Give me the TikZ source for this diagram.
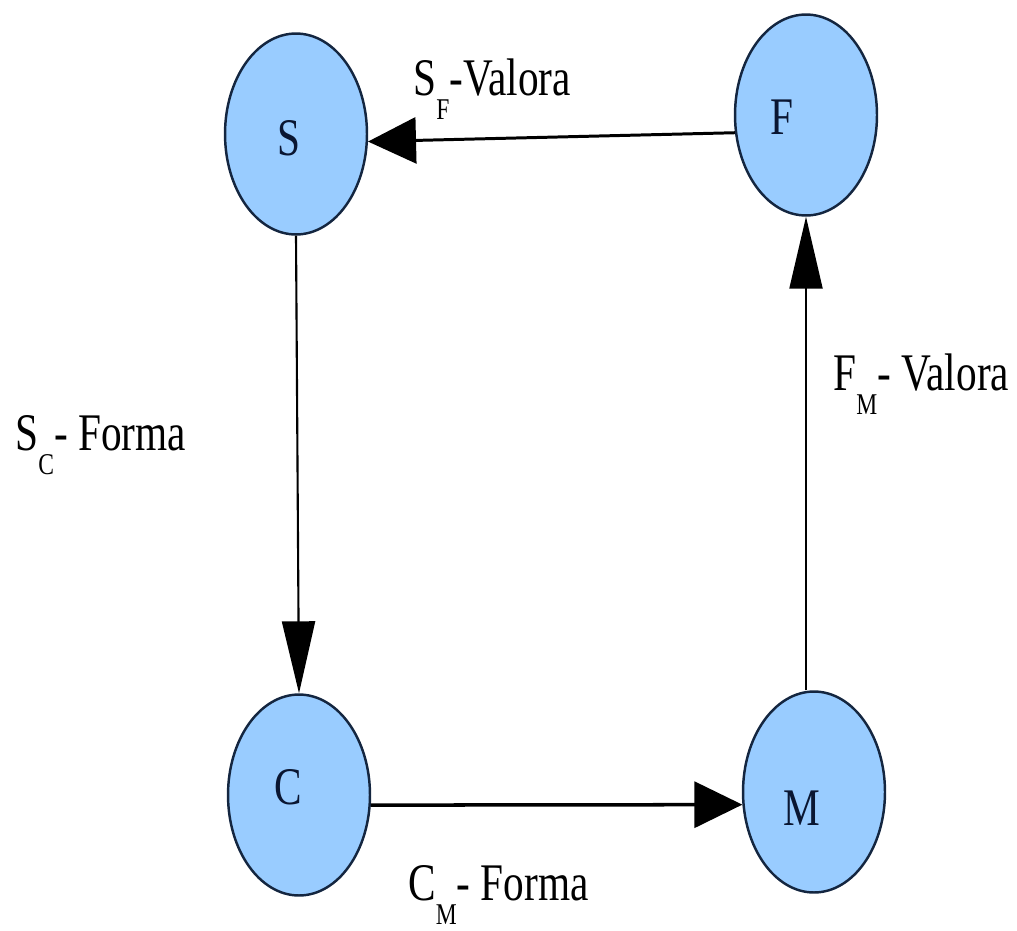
\documentclass[tikz,border=0pt]{standalone}
\usepackage{fontspec}
\setmainfont{Liberation Serif}
\usetikzlibrary{shapes.geometric,arrows.meta}

\definecolor{nodeblue}{RGB}{153,204,255}
\definecolor{rimblue}{RGB}{20,38,64}
\definecolor{letterblue}{RGB}{10,22,50}

% tall letters, subscript set low under the capital
\newcommand{\tall}[1]{\scalebox{1}[1.28]{#1}}
\newcommand{\sublbl}[3]{\tall{#1\raisebox{-11pt}{\fontsize{13.4}{14}\selectfont #2}#3}}

\tikzset{
  state/.style={ellipse, draw=rimblue, line width=1.4pt, fill=nodeblue,
    minimum width=2.84cm, minimum height=4.02cm, inner sep=0pt},
  letter/.style={text=letterblue, inner sep=0pt, font=\fontsize{23.5}{24}\selectfont},
  lbl/.style={anchor=base west, inner sep=0pt, font=\fontsize{23.5}{24}\selectfont},
  harrow/.style={line width=2pt, -{Triangle[length=0.96cm,width=0.92cm]}},
  varrow/.style={line width=1.2pt, -{Triangle[length=1.44cm,width=0.66cm]}}
}

\begin{document}
\begin{tikzpicture}[x=0.02cm,y=-0.02cm]
\useasboundingbox (0,0) rectangle (1017,930);

\node[state] (S) at (296,134) {};
\node[state] (F) at (806,115) {};
\node[state] (C) at (299,795) {};
\node[state] (M) at (814,792) {};

\node[letter] (Sl) at (289,138) {\tall{S}};
\node[letter] (Fl) at (782,117) {\tall{F}};
\node[letter] (Cl) at (288,787) {\tall{C}};
\node[letter] (Ml) at (802,808) {\tall{M}};

\draw[harrow, line width=1.7pt] (F.194) -- (S.-6);
\draw[varrow] (S.south) -- (C.north);
\draw[harrow] (C.-8) -- (M.190);
\draw[varrow] (M.north -| F.south) -- (F.south);

\node[lbl] (SF) at (413,95) {\sublbl{S}{F}{-Valora}};
\node[lbl] (SC) at (15,450) {\sublbl{S}{C}{- Forma}};
\node[lbl] (FM) at (833,390) {\sublbl{F}{M}{- Valora}};
\node[lbl] (CM) at (408,900) {\sublbl{C}{M}{- Forma}};

\end{tikzpicture}
\end{document}
